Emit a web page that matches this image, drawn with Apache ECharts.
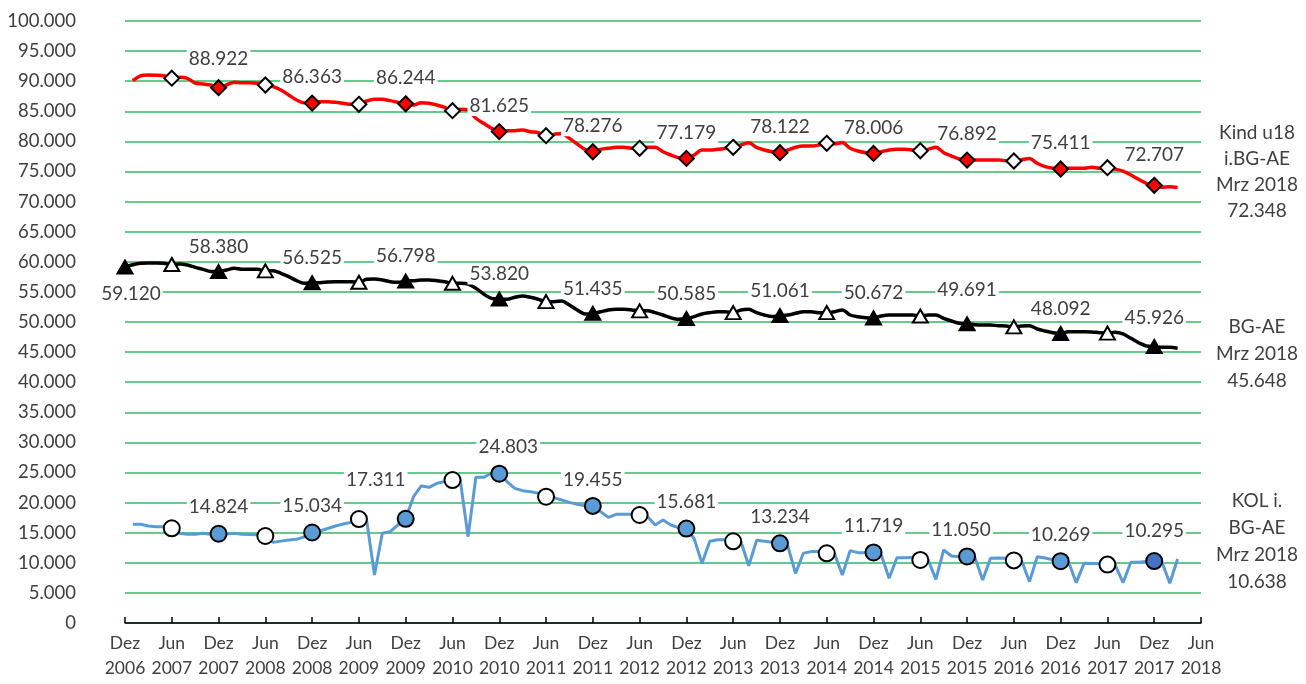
<!DOCTYPE html>
<html><head><meta charset="utf-8">
<script src="https://cdn.jsdelivr.net/npm/echarts@6/dist/echarts.min.js"></script>
<style>html,body{margin:0;padding:0;background:#fff}#c{width:1306px;height:684px}</style>
</head><body><div id="c"></div>
<script>
// ---- categories (monthly, Dez 2006 .. Jun 2018) ----
const monthNames = ['Jan','Feb','Mrz','Apr','Mai','Jun','Jul','Aug','Sep','Okt','Nov','Dez'];
const startYear = 2006, startMonth = 11;
const monthCount = 139;
const categories = [];
for (let i = 0; i < monthCount; i++) {
  const m = (startMonth + i) % 12;
  const y = startYear + Math.floor((startMonth + i) / 12);
  categories.push(monthNames[m] + '\n' + y);
}

// ---- Kind u18 i.BG-AE (red), Jan 2007 .. Mrz 2018 ----
const redStart = 1;
const redValues = [
  90080, 90900, 91030, 91000, 90900, 90500, 90640, 90480, 89700, 89550, 89370, 88922,
  89370, 89820, 89760, 89760, 89650, 89370, 89090, 88540, 87710, 86880, 86400, 86363,
  86600, 86600, 86500, 86330, 86160, 86160, 86710, 86990, 86990, 86770, 86500, 86244,
  86050, 86440, 86330, 86050, 85660, 85100, 85330, 85200, 83840, 83000, 82180, 81625,
  81780, 81780, 81890, 81610, 81440, 80950, 81170, 81330, 80510, 79570, 78680, 78276,
  78680, 78850, 79020, 79020, 78850, 78850, 79020, 79020, 78290, 77740, 77300, 77179,
  77740, 78570, 78570, 78680, 78850, 79020, 79400, 79790, 79020, 78570, 78290, 78122,
  78570, 79020, 79240, 79240, 79400, 79680, 79600, 79800, 78850, 78400, 78130, 78006,
  78290, 78570, 78680, 78680, 78570, 78450, 78680, 79020, 78130, 77570, 77080, 76892,
  76910, 76910, 76910, 76910, 76800, 76740, 76950, 77150, 76360, 75800, 75530, 75411,
  75530, 75530, 75530, 75690, 75530, 75630, 75400, 75080, 74420, 73700, 73040, 72707,
  72400, 72450, 72348
];

// ---- BG-AE (black), Dez 2006 .. Mrz 2018 ----
const blackStart = 0;
const blackValues = [
  59120,
  59500, 59750, 59800, 59800, 59750, 59550, 59630, 59470, 59080, 58750, 58400, 58380,
  58640, 58920, 58750, 58750, 58750, 58500, 58530, 58090, 57530, 56870, 56430, 56525,
  56530, 56650, 56700, 56700, 56700, 56600, 57090, 57140, 56970, 56700, 56600, 56798,
  56870, 56970, 56970, 56870, 56700, 56430, 56430, 56310, 55600, 54650, 53930, 53820,
  53770, 54100, 54320, 54100, 53770, 53380, 53380, 53490, 52820, 51990, 51330, 51435,
  51710, 52000, 52100, 52100, 52000, 51850, 51880, 51550, 51160, 50700, 50450, 50585,
  50900, 51330, 51550, 51710, 51710, 51550, 51990, 52100, 51550, 51160, 50900, 51061,
  51160, 51440, 51710, 51710, 51550, 51550, 51710, 52000, 51160, 50880, 50720, 50672,
  51000, 51160, 51160, 51160, 51160, 51000, 51160, 51160, 50610, 50170, 49780, 49691,
  49550, 49500, 49500, 49390, 49330, 49200, 49330, 49390, 48840, 48500, 48230, 48092,
  48390, 48390, 48390, 48340, 48230, 48150, 48300, 48010, 47290, 46560, 46010, 45926,
  45790, 45790, 45648
];

// ---- KOL i. BG-AE (blue), Jan 2007 .. Mrz 2018 ----
const blueStart = 1;
const blueValues = [
  16400, 16400, 16110, 15990, 15990, 15730, 14900, 14730, 14730, 14900, 14730, 14824,
  14800, 14900, 14750, 14700, 14650, 14450, 13400, 13600, 13800, 13900, 14300, 15034,
  15280, 15700, 16110, 16450, 16720, 17270, 17000, 7970, 14900, 15170, 16280, 17311,
  20980, 22760, 22540, 23200, 23480, 23750, 23700, 14340, 24200, 24200, 24870, 24803,
  23480, 22370, 21980, 21820, 21540, 20980, 20820, 20430, 20040, 19710, 19490, 19455,
  18490, 17540, 18050, 18050, 18050, 17940, 17700, 16280, 17110, 16280, 15840, 15681,
  14000, 9910, 13570, 13840, 13840, 13570, 13500, 9520, 13730, 13570, 13400, 13234,
  12800, 8250, 11580, 11860, 11860, 11580, 11500, 7970, 12020, 11690, 11690, 11719,
  11300, 7420, 10850, 10850, 10900, 10470, 10500, 7250, 12130, 11130, 11000, 11050,
  10900, 7140, 10750, 10800, 10750, 10400, 10300, 6870, 11020, 10800, 10500, 10269,
  10200, 6700, 9910, 9900, 9900, 9700, 9600, 6700, 10080, 10100, 10200, 10295,
  10100, 6590, 10638
];

const yMin = 0, yMax = 100000, yInterval = 5000;

function fmt(v) { return String(Math.round(v)).replace(/\B(?=(\d{3})+(?!\d))/g, '.'); }

const FONT = 'Lato';
const TXT = '#404040';

function buildData(values, start, opt) {
  const data = [];
  for (let i = 0; i < monthCount; i++) {
    const k = i - start;
    if (k < 0 || k >= values.length) { data.push('-'); continue; }
    const v = values[k];
    const isDec = i % 12 === 0, isJun = i % 12 === 6;
    if (!isDec && !isJun) { data.push({ value: v, symbol: 'none' }); continue; }
    const item = {
      value: v, symbol: opt.symbol, symbolSize: opt.size,
      itemStyle: { color: isDec ? ((opt.fillOverrides && opt.fillOverrides[i]) || opt.fill) : '#ffffff',
                   borderColor: '#000', borderWidth: 2 }
    };
    if (isDec) {
      item.label = Object.assign({ show: true, position: 'top', distance: 7 }, (opt.labels && opt.labels[i]) || {});
    }
    data.push(item);
  }
  return data;
}

const labelStyle = {
  show: false, formatter: p => fmt(p.value), color: TXT, fontFamily: FONT, fontSize: 19,
  backgroundColor: '#ffffff', padding: [1, 2]
};

const option = {
  animation: false,
  backgroundColor: '#ffffff',
  grid: { left: 125, right: 105, top: 21, bottom: 61, containLabel: false },
  xAxis: {
    type: 'category', data: categories, boundaryGap: false,
    axisLine: { lineStyle: { color: '#000', width: 1.5 } },
    axisTick: { inside: true, length: 6, interval: (idx) => idx % 6 === 0, lineStyle: { color: '#000', width: 1.5 } },
    axisLabel: { interval: (idx) => idx % 6 === 0, color: TXT, fontFamily: FONT, fontSize: 17.5, lineHeight: 25, margin: 8 },
    splitLine: { show: false }
  },
  yAxis: {
    type: 'value', min: yMin, max: yMax, interval: yInterval,
    axisLine: { show: false }, axisTick: { show: false },
    axisLabel: { formatter: fmt, color: TXT, fontFamily: FONT, fontSize: 18.5, margin: 49 },
    splitLine: { lineStyle: { color: '#33b864', width: 1.5 } }
  },
  series: [
    {
      name: 'BG-AE', type: 'line', smooth: 0.3, showSymbol: true, showAllSymbol: true,
      lineStyle: { color: '#000', width: 3.5 }, itemStyle: { color: '#000' },
      label: labelStyle,
      data: buildData(blackValues, blackStart, {
        symbol: 'triangle', size: [15, 13], fill: '#000',
        labels: { 0: { position: 'bottom', distance: 9, offset: [6, 0] }, 108: { offset: [0, -9] }, 132: { offset: [0, -4] } }
      })
    },
    {
      name: 'Kind u18 i.BG-AE', type: 'line', smooth: 0.3, showSymbol: true, showAllSymbol: true,
      lineStyle: { color: '#ff0000', width: 3.5 }, itemStyle: { color: '#ff0000' },
      label: labelStyle,
      data: buildData(redValues, redStart, {
        symbol: 'diamond', size: 15, fill: '#ff0000',
        labels: { 12: { offset: [0, -3] }, 132: { offset: [0, -4] } }
      })
    },
    {
      name: 'KOL i. BG-AE', type: 'line', smooth: false, showSymbol: true, showAllSymbol: true,
      lineStyle: { color: '#5b9bd5', width: 3 }, itemStyle: { color: '#5b9bd5' },
      label: labelStyle,
      data: buildData(blueValues, blueStart, {
        symbol: 'circle', size: 16, fill: '#5b9bd5', fillOverrides: { 132: '#4472c4' },
        labels: { 36: { offset: [-30, -12] }, 48: { offset: [9, 0] }, 108: { offset: [-6, 0] }, 132: { offset: [0, -4] } }
      })
    }
  ],
  graphic: [
    { type: 'text', x: 1257, y: 120, style: { text: 'Kind u18\ni.BG-AE\nMrz 2018\n' + fmt(redValues[redValues.length - 1]), fill: TXT, font: '19px ' + FONT, align: 'center', verticalAlign: 'top', lineHeight: 26 } },
    { type: 'text', x: 1257, y: 313, style: { text: 'BG-AE\nMrz 2018\n' + fmt(blackValues[blackValues.length - 1]), fill: TXT, font: '19px ' + FONT, align: 'center', verticalAlign: 'top', lineHeight: 27 } },
    { type: 'text', x: 1257, y: 487, style: { text: 'KOL i.\nBG-AE\nMrz 2018\n' + fmt(blueValues[blueValues.length - 1]), fill: TXT, font: '19px ' + FONT, align: 'center', verticalAlign: 'top', lineHeight: 27 } }
  ]
};

const chart = echarts.init(document.getElementById('c'), null, { renderer: 'canvas' });
chart.setOption(option);
</script>
</body></html>
